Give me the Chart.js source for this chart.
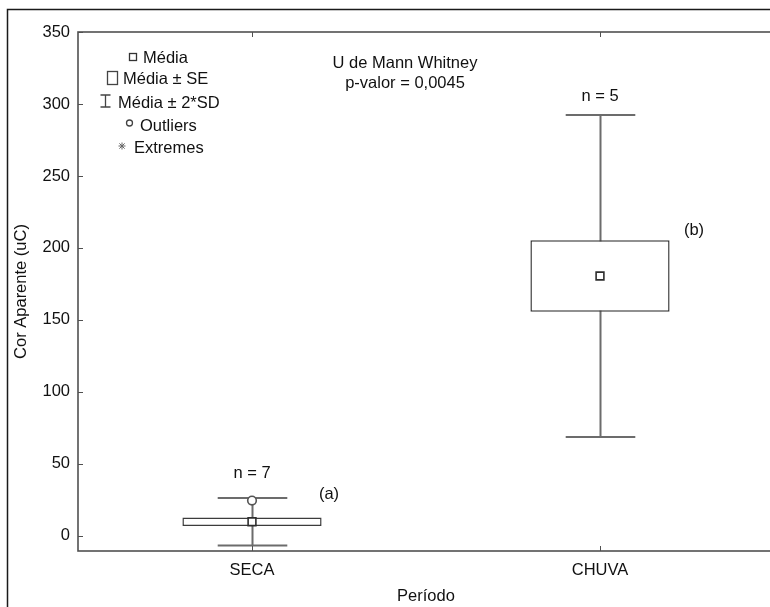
<!DOCTYPE html>
<html>
<head>
<meta charset="utf-8">
<script src="https://cdn.jsdelivr.net/npm/chart.js@4/dist/chart.umd.min.js"></script>
<style>
  html, body { margin: 0; padding: 0; width: 770px; height: 607px; overflow: hidden; background: #fff; }
  canvas { position: absolute; left: 0; top: 0; }
</style>
</head>
<body>
<canvas id="chart" width="800" height="607"></canvas>
<script>
// Cor aparente por período: média, erro padrão e desvio padrão
const categories = ['SECA', 'CHUVA'];
const means = [9.8, 180.5];
const stdErrors = [3.0, 24.9];
const stdDevs = [8.25, 55.9];
const outliers = [24.5, null];
const sampleSizes = ['n = 7', 'n = 5'];
const groupLetters = ['(a)', '(b)'];
const yTicks = [0, 50, 100, 150, 200, 250, 300, 350];

const FONT = '"Liberation Sans", Arial, Helvetica, sans-serif';
const TEXT = '#111';

// where the n labels and group letters sit (value units / pixel offsets)
const labelPlacement = {
  nValue: [43.5, 305],
  letterValue: [29, 212.5],
  letterDx: [77, 94]
};

const seRanges = means.map((m, i) => [m - stdErrors[i], m + stdErrors[i]]);

const boxPlot = {
  id: 'boxPlot',
  beforeDatasetsDraw(chart) {
    const { ctx, scales: { x, y } } = chart;
    const capHalf = x.width / categories.length * 0.1;
    ctx.save();
    ctx.strokeStyle = '#6c6c6c';
    ctx.lineWidth = 2;
    categories.forEach((c, i) => {
      const cx = Math.round(x.getPixelForValue(i)) + 0.5;
      const lo = y.getPixelForValue(means[i] - 2 * stdDevs[i]);
      const hi = y.getPixelForValue(means[i] + 2 * stdDevs[i]);
      ctx.beginPath();
      ctx.moveTo(cx, lo); ctx.lineTo(cx, hi);
      ctx.moveTo(cx - capHalf, lo); ctx.lineTo(cx + capHalf, lo);
      ctx.moveTo(cx - capHalf, hi); ctx.lineTo(cx + capHalf, hi);
      ctx.stroke();
    });
    ctx.restore();
  },
  afterDraw(chart) {
    const { ctx, chartArea: a, scales: { x, y } } = chart;
    ctx.save();

    // outer frame
    ctx.strokeStyle = '#1a1a1a';
    ctx.lineWidth = 1.5;
    ctx.beginPath();
    ctx.moveTo(7.5, 700); ctx.lineTo(7.5, 9.5); ctx.lineTo(800, 9.5);
    ctx.stroke();

    // plot frame
    ctx.strokeStyle = '#505050';
    ctx.lineWidth = 1.6;
    ctx.strokeRect(a.left, a.top, a.right - a.left, a.bottom - a.top);

    // inside tick marks
    ctx.lineWidth = 1;
    ctx.strokeStyle = '#505050';
    ctx.beginPath();
    yTicks.forEach(v => {
      const py = Math.round(y.getPixelForValue(v)) + 0.5;
      ctx.moveTo(a.left, py); ctx.lineTo(a.left + 5, py);
    });
    categories.forEach((c, i) => {
      const px = Math.round(x.getPixelForValue(i)) + 0.5;
      ctx.moveTo(px, a.bottom); ctx.lineTo(px, a.bottom - 5);
      ctx.moveTo(px, a.top); ctx.lineTo(px, a.top + 5);
    });
    ctx.stroke();

    // n labels and group letters
    ctx.fillStyle = TEXT;
    ctx.font = '16.5px ' + FONT;
    ctx.textBaseline = 'middle';
    categories.forEach((c, i) => {
      const px = x.getPixelForValue(i);
      ctx.textAlign = 'center';
      ctx.fillText(sampleSizes[i], px, y.getPixelForValue(labelPlacement.nValue[i]));
      ctx.fillText(groupLetters[i], px + labelPlacement.letterDx[i], y.getPixelForValue(labelPlacement.letterValue[i]));
    });

    // test statistic
    ctx.textAlign = 'center';
    ctx.fillText('U de Mann Whitney', 405, 63);
    ctx.fillText('p-valor = 0,0045', 405, 83);

    // key
    ctx.textAlign = 'left';
    ctx.strokeStyle = '#333';
    ctx.lineWidth = 1.3;
    ctx.strokeRect(129.5, 53.5, 7, 7);
    ctx.fillText('Média', 143, 58);
    ctx.strokeStyle = '#444';
    ctx.strokeRect(107.5, 71.5, 10, 13);
    ctx.fillText('Média ± SE', 123, 79);
    ctx.beginPath();
    ctx.moveTo(105.5, 95); ctx.lineTo(105.5, 107);
    ctx.moveTo(100.5, 95); ctx.lineTo(110.5, 95);
    ctx.moveTo(100.5, 107); ctx.lineTo(110.5, 107);
    ctx.stroke();
    ctx.fillText('Média ± 2*SD', 118, 103);
    ctx.beginPath();
    ctx.arc(129.5, 123, 3, 0, Math.PI * 2);
    ctx.stroke();
    ctx.fillText('Outliers', 140, 126.5);
    ctx.lineWidth = 1;
    ctx.strokeStyle = '#666';
    ctx.beginPath();
    const sx = 122, sy = 146, r = 3.5;
    ctx.moveTo(sx - r, sy); ctx.lineTo(sx + r, sy);
    ctx.moveTo(sx, sy - r); ctx.lineTo(sx, sy + r);
    ctx.moveTo(sx - r * 0.75, sy - r * 0.75); ctx.lineTo(sx + r * 0.75, sy + r * 0.75);
    ctx.moveTo(sx + r * 0.75, sy - r * 0.75); ctx.lineTo(sx - r * 0.75, sy + r * 0.75);
    ctx.stroke();
    ctx.fillText('Extremes', 134, 148);

    ctx.restore();
  }
};

new Chart(document.getElementById('chart'), {
  type: 'bar',
  data: {
    labels: categories,
    datasets: [
      {
        type: 'line',
        label: 'Média',
        data: means,
        showLine: false,
        pointStyle: 'rect',
        pointRadius: 5.5,
        pointBackgroundColor: '#fff',
        pointBorderColor: '#2e2e2e',
        pointBorderWidth: 1.6,
        order: 0
      },
      {
        type: 'line',
        label: 'Outliers',
        data: outliers,
        showLine: false,
        pointStyle: 'circle',
        pointRadius: 4.3,
        pointBackgroundColor: '#fff',
        pointBorderColor: '#555',
        pointBorderWidth: 1.6,
        order: 1
      },
      {
        label: 'Média ± SE',
        data: seRanges,
        backgroundColor: '#fff',
        borderColor: '#3c3c3c',
        borderWidth: 1.5,
        borderSkipped: false,
        barPercentage: 0.4,
        categoryPercentage: 1.0,
        order: 2
      }
    ]
  },
  options: {
    responsive: false,
    animation: false,
    events: [],
    layout: { padding: { top: 32, right: 26, left: 0, bottom: 0 } },
    plugins: { legend: { display: false }, tooltip: { enabled: false } },
    scales: {
      x: {
        grid: { display: false, drawTicks: false },
        border: { display: false },
        ticks: { color: TEXT, font: { family: FONT, size: 16.5 }, padding: 10 },
        title: { display: true, text: 'Período', color: TEXT, font: { family: FONT, size: 16.5 }, padding: { top: 0, bottom: 1 } },
        afterFit: s => { s.height = 56; }
      },
      y: {
        min: -10.5,
        max: 350,
        grid: { display: false, drawTicks: false },
        border: { display: false },
        afterBuildTicks: s => { s.ticks = yTicks.map(v => ({ value: v })); },
        ticks: { color: TEXT, font: { family: FONT, size: 16.5 }, padding: 8 },
        title: { display: true, text: 'Cor Aparente (uC)', color: TEXT, font: { family: FONT, size: 16.5 }, padding: { top: 12, bottom: 0 } },
        afterFit: s => { s.width = 78; }
      }
    }
  },
  plugins: [boxPlot]
});
</script>
</body>
</html>
